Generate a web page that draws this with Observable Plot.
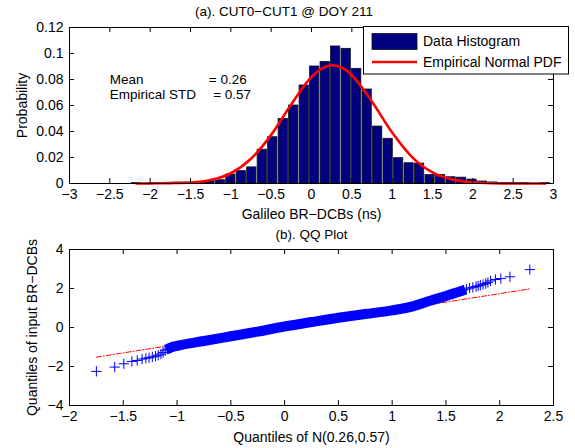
<!DOCTYPE html>
<html><head><meta charset="utf-8">
<script src="https://cdn.jsdelivr.net/npm/d3@7"></script>
<script src="https://cdn.jsdelivr.net/npm/@observablehq/plot@0.6"></script>
<style>
html,body{margin:0;padding:0;background:#fff;}
#chart{position:relative;width:575px;height:448px;}
#chart svg{display:block;}
</style></head><body><div id="chart"></div>
<script>
// ---------- Panel (a): histogram ----------
const titleTop = "(a). CUT0−CUT1 @ DOY 211";
const xLabelTop = "Galileo BR−DCBs (ns)";
const yLabelTop = "Probability";
const binCenters = [-2.17,-2.04,-1.91,-1.78,-1.65,-1.52,-1.39,-1.26,-1.13,-1.00,-0.87,-0.74,-0.61,-0.48,-0.35,-0.22,-0.09,0.04,0.17,0.30,0.43,0.56,0.69,0.82,0.95,1.08,1.21,1.34,1.47,1.60,1.73,1.86,1.99,2.12,2.25,2.38,2.51,2.64,2.77,2.90];
const binProbabilities = [0.0003,0.0000,0.0003,0.0003,0.0007,0.0007,0.0010,0.0018,0.0025,0.0069,0.0095,0.0124,0.0260,0.0356,0.0497,0.0600,0.0754,0.0900,0.0935,0.1054,0.1036,0.0882,0.0723,0.0438,0.0344,0.0195,0.0156,0.0153,0.0065,0.0065,0.0048,0.0045,0.0030,0.0015,0.0008,0.0003,0.0003,0.0003,0.0000,0.0003];
const binWidth = 0.13;
const pdfX = [-2.17,-2.0,-1.75,-1.5,-1.25,-1.0,-0.75,-0.5,-0.25,0,0.13,0.26,0.4,0.5,0.75,1.0,1.25,1.5,1.75,2.0,2.25,2.5,2.9];
const pdfY = [0.0000,0.0001,0.0003,0.0008,0.0027,0.0079,0.0190,0.0374,0.0610,0.0820,0.0886,0.0910,0.0883,0.0833,0.0629,0.0392,0.0201,0.0085,0.0030,0.0009,0.0002,0.0000,0.0000];
const xTicksTop = [-3,-2.5,-2,-1.5,-1,-0.5,0,0.5,1,1.5,2,2.5,3];
const yTicksTop = [0,0.02,0.04,0.06,0.08,0.1,0.12];
const legendLabels = ["Data Histogram","Empirical Normal PDF"];
const statLabels = ["Mean","Empirical STD"];
const statValues = [0.26, 0.57];

// ---------- Panel (b): QQ plot ----------
const titleBottom = "(b). QQ Plot";
const xLabelBottom = "Quantiles of N(0.26,0.57)";
const yLabelBottom = "Quantiles of input BR−DCBs";
const qqTailX = [-1.75,-1.58,-1.495,-1.42,-1.37,-1.325,-1.29,-1.26,-1.23,-1.20,-1.175,-1.15,-1.13,-1.11,-1.09,
                 1.66,1.69,1.72,1.75,1.78,1.80,1.82,1.845,1.87,1.89,1.915,1.96,2.01,2.095,2.28];
const qqTailY = [-2.25,-2.03,-1.86,-1.74,-1.69,-1.62,-1.58,-1.55,-1.51,-1.47,-1.42,-1.36,-1.28,-1.19,-1.11,
                 1.92,1.97,2.02,2.06,2.10,2.13,2.17,2.21,2.25,2.31,2.39,2.46,2.51,2.60,2.97];
const qqBandX = [-1.10,-1.05,-1.0,-0.75,-0.5,-0.25,0,0.25,0.5,0.75,1.0,1.2,1.36,1.5,1.6,1.68];
const qqBandY = [-1.14,-1.01,-0.94,-0.69,-0.45,-0.21,0.05,0.28,0.5,0.69,0.88,1.1,1.38,1.62,1.8,1.94];
const refLineX = [-1.75, 2.28];
const refLineY = [-1.52, 1.98];
const xTicksBottom = [-2,-1.5,-1,-0.5,0,0.5,1,1.5,2,2.5];
const yTicksBottom = [-4,-2,0,2,4];

// ---------- Drawing ----------
const font = "'Liberation Sans', Arial, Helvetica, sans-serif";
const fs = 14;
const fmt = d => String(d).replace("-", "−");
const barColor = "#000080", pdfColor = "#ff0000", qqColor = "#0000ff";
const frameW = 484, frameH = 156;

const bars = binCenters.map((c, i) => ({x1: c - binWidth / 2, x2: c + binWidth / 2, y: binProbabilities[i]}));
const pdf = pdfX.map((x, i) => ({x, y: pdfY[i]}));

function frameTicks(xt, yt) {
  return [
    Plot.frame({stroke: "black", strokeWidth: 1}),
    Plot.tickX(xt, {x: d => d, insetTop: frameH - 5, stroke: "black"}),
    Plot.tickX(xt, {x: d => d, insetBottom: frameH - 5, stroke: "black"}),
    Plot.tickY(yt, {y: d => d, insetRight: frameW - 5, stroke: "black"}),
    Plot.tickY(yt, {y: d => d, insetLeft: frameW - 5, stroke: "black"}),
    Plot.axisX({ticks: xt, tickSize: 0, tickPadding: 6, tickFormat: fmt, label: null, fontSize: fs}),
    Plot.axisY({ticks: yt, tickSize: 0, tickPadding: 6, tickFormat: fmt, label: null, fontSize: fs})
  ];
}
const style = {fontFamily: font, fontSize: fs + "px", background: "white", color: "black", overflow: "visible"};

const statFs = 13.5;
const topPlot = Plot.plot({
  width: 575, height: 224,
  marginTop: 27, marginBottom: 41, marginLeft: 69, marginRight: 22,
  style,
  x: {domain: [-3, 3]}, y: {domain: [0, 0.12]},
  marks: [
    Plot.rectY(bars, {x1: "x1", x2: "x2", y: "y", fill: barColor, stroke: "#111", strokeWidth: 0.8, insetLeft: 0.6, insetRight: 0.6}),
    Plot.line(pdf, {x: "x", y: "y", stroke: pdfColor, strokeWidth: 2.6, curve: "monotone-x"}),
    ...frameTicks(xTicksTop, yTicksTop),
    Plot.text([titleTop], {text: d => d, frameAnchor: "top-left", dx: 214.5, dy: -15.5, textAnchor: "middle", lineAnchor: "middle", fontSize: 13.5}),
    Plot.text([xLabelTop], {text: d => d, frameAnchor: "bottom", dy: 31, lineAnchor: "middle", fontSize: fs}),
    Plot.text([yLabelTop], {text: d => d, frameAnchor: "left", dx: -47, rotate: -90, textAnchor: "middle", lineAnchor: "middle", fontSize: fs}),
    Plot.text([statLabels[0]], {text: d => d, frameAnchor: "top-left", dx: 40.3, dy: 51.8, textAnchor: "start", lineAnchor: "middle", fontSize: statFs}),
    Plot.text([statValues[0]], {text: d => "= " + d.toFixed(2), frameAnchor: "top-left", dx: 139.3, dy: 51.8, textAnchor: "start", lineAnchor: "middle", fontSize: statFs}),
    Plot.text([statLabels[1]], {text: d => d, frameAnchor: "top-left", dx: 40.3, dy: 67.4, textAnchor: "start", lineAnchor: "middle", fontSize: statFs}),
    Plot.text([statValues[1]], {text: d => "= " + d.toFixed(2), frameAnchor: "top-left", dx: 143.7, dy: 67.4, textAnchor: "start", lineAnchor: "middle", fontSize: statFs})
  ]
});

// legend box (drawn on top of the plot)
const lg = d3.select(topPlot).append("g").attr("font-family", font).attr("font-size", fs).attr("text-anchor", "start");
lg.append("rect").attr("x", 363.5).attr("y", 26.5).attr("width", 205).attr("height", 47.5).attr("fill", "white").attr("stroke", "black");
lg.append("rect").attr("x", 372).attr("y", 33.5).attr("width", 45).attr("height", 16).attr("fill", barColor).attr("stroke", "#111").attr("stroke-width", 0.8);
lg.append("line").attr("x1", 372).attr("x2", 417).attr("y1", 62).attr("y2", 62).attr("stroke", pdfColor).attr("stroke-width", 2.6);
lg.append("text").attr("x", 423).attr("y", 41.5).attr("dy", "0.35em").attr("text-anchor", "start").attr("fill", "black").text(legendLabels[0]);
lg.append("text").attr("x", 423).attr("y", 62).attr("dy", "0.35em").attr("text-anchor", "start").attr("fill", "black").text(legendLabels[1]);

const band = qqBandX.map((x, i) => ({x, y: qqBandY[i]}));
const tails = qqTailX.map((x, i) => ({x, y: qqTailY[i]}));
const ref = refLineX.map((x, i) => ({x, y: refLineY[i]}));

const bottomPlot = Plot.plot({
  width: 575, height: 224,
  marginTop: 25, marginBottom: 43, marginLeft: 69, marginRight: 22,
  style,
  x: {domain: [-2, 2.5]}, y: {domain: [-4, 4]},
  marks: [
    Plot.line(ref, {x: "x", y: "y", stroke: pdfColor, strokeWidth: 1, strokeDasharray: "5,2,1,2"}),
    Plot.line(band, {x: "x", y: "y", stroke: qqColor, strokeWidth: 10, curve: "monotone-x", strokeLinecap: "butt"}),
    Plot.dot(tails, {x: "x", y: "y", symbol: "plus", r: 3.4, stroke: qqColor, strokeWidth: 1}),
    ...frameTicks(xTicksBottom, yTicksBottom),
    Plot.text([titleBottom], {text: d => d, frameAnchor: "top", dy: -15, lineAnchor: "middle", fontSize: 13.5}),
    Plot.text([xLabelBottom], {text: d => d, frameAnchor: "bottom", dy: 32, lineAnchor: "middle", fontSize: fs}),
    Plot.text([yLabelBottom], {text: d => d, frameAnchor: "left", dx: -37, rotate: -90, textAnchor: "middle", lineAnchor: "middle", fontSize: fs})
  ]
});

document.getElementById("chart").append(topPlot, bottomPlot);
</script></body></html>
